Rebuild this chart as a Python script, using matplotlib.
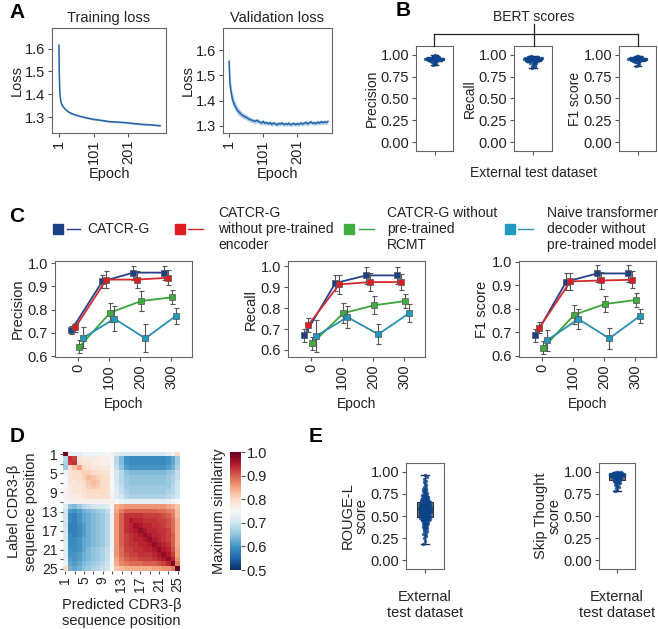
import numpy as np
import matplotlib
matplotlib.use('Agg')
import matplotlib.pyplot as plt
from matplotlib.lines import Line2D

plt.rcParams['font.family'] = ['Liberation Sans', 'DejaVu Sans']
plt.rcParams['font.size'] = 9.5
plt.rcParams['text.color'] = '#222222'
plt.rcParams['axes.labelcolor'] = '#222222'
plt.rcParams['xtick.color'] = '#555555'
plt.rcParams['ytick.color'] = '#555555'
plt.rcParams['xtick.labelcolor'] = '#222222'
plt.rcParams['ytick.labelcolor'] = '#222222'

# ---------------- data ----------------
# A: loss curves
train_epochs = [1, 2, 3, 4, 5, 7, 10, 13, 17, 22, 30, 41, 55, 70, 85, 101, 125, 146, 170, 198, 220, 241, 265, 293]
train_loss = [1.615, 1.50, 1.43, 1.40, 1.385, 1.365, 1.352, 1.346, 1.338, 1.330, 1.321, 1.313, 1.306, 1.300,
              1.295, 1.290, 1.285, 1.280, 1.278, 1.275, 1.271, 1.268, 1.266, 1.262]
train_sd = [0.055, 0.02, 0.012, 0.008, 0.007, 0.006, 0.005, 0.005, 0.004, 0.004, 0.004, 0.004, 0.004, 0.004,
            0.004, 0.004, 0.004, 0.004, 0.004, 0.004, 0.004, 0.004, 0.004, 0.004]

val_epochs = [1, 2, 3, 4, 6, 8, 10, 12, 15, 18, 22, 26, 30, 35, 40, 45, 50, 56, 62, 69, 76, 83, 90, 97,
              101, 106, 111, 116, 121, 126, 131, 136, 141, 146, 151, 156, 161, 166, 171, 176, 181, 186,
              191, 196, 201, 206, 211, 216, 221, 226, 231, 236, 241, 246, 251, 256, 261, 266, 271, 276,
              281, 286, 291]
val_loss = [1.555, 1.51, 1.48, 1.46, 1.44, 1.425, 1.41, 1.40, 1.39, 1.38, 1.37, 1.36, 1.355, 1.348, 1.342,
            1.338, 1.335, 1.33, 1.325, 1.322, 1.318, 1.322, 1.315, 1.312, 1.318, 1.310, 1.314, 1.308, 1.313,
            1.306, 1.311, 1.309, 1.304, 1.310, 1.307, 1.312, 1.305, 1.309, 1.306, 1.311, 1.304, 1.308, 1.310,
            1.305, 1.309, 1.306, 1.312, 1.307, 1.310, 1.314, 1.308, 1.312, 1.316, 1.310, 1.313, 1.309, 1.315,
            1.311, 1.317, 1.312, 1.316, 1.313, 1.318]
val_sd = [0.11, 0.06, 0.04, 0.035, 0.03, 0.028, 0.025, 0.022, 0.02, 0.018, 0.016, 0.015, 0.014, 0.012,
          0.012, 0.011, 0.010, 0.010, 0.010, 0.009, 0.009, 0.009, 0.009, 0.009, 0.009, 0.008, 0.008, 0.008,
          0.008, 0.008, 0.008, 0.008, 0.008, 0.008, 0.008, 0.008, 0.008, 0.008, 0.008, 0.008, 0.008, 0.008,
          0.008, 0.008, 0.008, 0.008, 0.008, 0.008, 0.008, 0.008, 0.008, 0.008, 0.008, 0.008, 0.008, 0.008,
          0.008, 0.008, 0.008, 0.008, 0.008, 0.008, 0.008]

# B: BERT scores on external test set
bert_precision = [0.95, 0.96, 0.94, 0.97, 0.95, 0.96, 0.93, 0.98, 0.95, 0.94, 0.96, 0.97, 0.95, 0.92, 0.96,
                  0.99, 0.95, 0.94, 0.96, 0.93, 0.97, 0.95, 0.91, 0.96, 0.94, 0.98, 0.95, 0.90, 0.96, 0.94,
                  0.97, 0.95, 0.89, 0.96, 0.93, 1.00, 0.95, 0.94, 0.96, 0.88, 0.97, 0.95, 0.94, 0.96, 0.92,
                  0.95, 0.97, 0.94, 0.96, 0.95, 0.95, 0.96, 0.94, 0.95, 0.96]
bert_recall = [0.95, 0.96, 0.93, 0.97, 0.94, 0.98, 0.92, 0.95, 0.96, 0.91, 0.97, 0.94, 0.95, 0.90, 0.96,
               0.98, 0.93, 0.95, 0.97, 0.89, 0.94, 0.96, 0.92, 0.95, 0.88, 0.97, 0.93, 0.96, 0.87, 0.95,
               0.94, 0.99, 0.86, 0.96, 0.93, 0.95, 0.85, 0.97, 0.94, 0.96, 0.92, 0.95, 0.91, 0.96, 0.94,
               0.95, 0.97, 0.93, 0.96, 0.94, 0.95, 0.96, 0.93, 0.97, 0.95]
bert_f1 = [0.95, 0.96, 0.94, 0.97, 0.95, 0.96, 0.93, 0.98, 0.95, 0.94, 0.96, 0.97, 0.95, 0.92, 0.96,
           0.98, 0.95, 0.94, 0.96, 0.93, 0.97, 0.95, 0.91, 0.96, 0.94, 0.99, 0.95, 0.90, 0.96, 0.94,
           0.97, 0.95, 0.89, 0.96, 0.93, 0.99, 0.95, 0.94, 0.96, 0.87, 0.97, 0.95, 0.94, 0.96, 0.92,
           0.95, 0.97, 0.94, 0.96, 0.95, 0.95, 0.96, 0.94, 0.95, 0.96]

# C: metrics vs epoch, four models
epochs_c = [0, 100, 200, 300]
model_names = ['CATCR-G', 'CATCR-G\nwithout pre-trained\nencoder', 'CATCR-G without\npre-trained\nRCMT',
               'Naive transformer\ndecoder without\npre-trained model']
prec_vals = [[0.711, 0.921, 0.959, 0.959], [0.724, 0.929, 0.929, 0.937],
             [0.640, 0.787, 0.837, 0.853], [0.679, 0.761, 0.676, 0.774]]
prec_errs = [[0.018, 0.028, 0.030, 0.030], [0.020, 0.038, 0.036, 0.033],
             [0.027, 0.040, 0.045, 0.030], [0.045, 0.055, 0.060, 0.034]]
rec_vals = [[0.670, 0.920, 0.957, 0.957], [0.720, 0.914, 0.925, 0.925],
            [0.632, 0.776, 0.814, 0.834], [0.667, 0.757, 0.675, 0.776]]
rec_errs = [[0.030, 0.038, 0.042, 0.040], [0.033, 0.047, 0.044, 0.040],
            [0.032, 0.048, 0.042, 0.032], [0.075, 0.052, 0.048, 0.043]]
f1_vals = [[0.686, 0.915, 0.950, 0.950], [0.719, 0.916, 0.920, 0.923],
           [0.634, 0.774, 0.820, 0.837], [0.666, 0.756, 0.673, 0.770]]
f1_errs = [[0.026, 0.037, 0.036, 0.036], [0.023, 0.038, 0.036, 0.036],
           [0.027, 0.040, 0.036, 0.029], [0.045, 0.041, 0.044, 0.030]]

# D: maximum similarity, label (rows) x predicted (cols) positions 1..25, in percent
heat_rows = [
    "100 73 73 73 74 74 74 74 74 75 76 72 71 71 71 71 71 71 71 71 71 71 72 74 80",
    "68 93 92 78 77 77 77 77 76 76 75 68 64 60 59 59 59 59 59 59 59 59 60 62 66",
    "67 92 93 79 78 78 77 77 76 76 75 68 64 60 59 59 59 59 59 59 59 59 60 62 66",
    "66 80 82 85 80 79 78 78 77 77 75 69 65 61 60 60 60 60 60 60 60 60 61 63 67",
    "74 78 79 80 81 81 80 79 79 78 75 71 68 65 64 64 64 64 64 64 64 64 65 66 69",
    "75 78 79 79 81 83 82 81 80 79 75 71 68 66 65 65 65 65 65 65 65 65 66 67 69",
    "75 78 78 79 80 82 83 82 80 79 75 71 68 66 65 65 65 65 65 65 65 65 66 67 70",
    "75 77 78 78 79 81 82 81 80 79 75 72 69 66 66 66 66 66 66 66 66 66 66 68 70",
    "76 77 78 78 79 80 80 80 80 79 75 72 69 67 66 66 66 66 66 66 66 66 67 68 70",
    "76 77 77 77 78 79 79 79 79 79 76 72 70 68 67 67 67 67 67 67 67 67 68 69 71",
    "75 76 76 76 76 76 76 76 76 76 76 75 74 73 73 73 73 73 73 73 73 73 73 74 75",
    "72 65 64 66 68 69 70 71 71 72 75 84 85 86 86 86 86 86 86 86 86 86 85 84 82",
    "70 61 60 61 63 64 65 66 67 69 74 85 88 90 90 90 90 90 90 90 89 89 88 87 83",
    "70 59 58 60 62 63 64 65 66 68 74 86 90 93 93 93 93 92 92 92 92 91 90 88 83",
    "70 59 58 60 62 63 64 65 66 68 74 86 90 93 95 94 94 93 93 93 92 92 91 89 84",
    "70 58 58 59 61 63 64 65 66 68 74 86 90 93 94 96 95 94 94 93 93 92 91 89 84",
    "71 58 58 59 61 63 64 65 66 68 74 86 90 93 94 95 97 95 94 94 93 93 92 89 84",
    "71 59 58 59 61 63 64 65 66 68 74 86 90 92 93 94 95 97 95 94 94 93 92 90 84",
    "71 59 59 60 62 63 64 65 66 68 74 86 90 92 93 94 94 95 97 95 94 93 92 90 84",
    "72 59 59 60 62 63 64 65 66 68 74 86 90 92 93 93 94 94 95 97 95 94 93 90 84",
    "72 60 59 60 62 64 65 66 67 69 74 86 89 92 92 93 93 94 94 95 97 95 94 91 85",
    "72 60 60 61 63 64 65 66 67 69 75 86 89 91 92 92 93 93 93 94 95 97 95 92 85",
    "73 61 60 61 63 64 65 66 67 69 75 85 88 90 91 91 92 92 92 93 94 95 97 94 86",
    "74 62 61 62 64 65 66 67 68 70 75 84 87 88 89 89 89 90 90 90 91 92 94 98 88",
    "80 63 62 63 65 66 67 68 69 70 75 82 83 84 84 84 84 84 84 85 85 86 86 88 100",
]
seq_positions = list(range(1, 26))

# E: ROUGE-L and Skip Thought scores
rouge_scores = [
    0.18, 0.22, 0.25, 0.27, 0.29, 0.30, 0.31, 0.33, 0.33, 0.35,
    0.35, 0.36, 0.37, 0.38, 0.38, 0.39, 0.40, 0.40, 0.41, 0.41,
    0.42, 0.42, 0.43, 0.43, 0.44, 0.44, 0.45, 0.45, 0.45, 0.46,
    0.46, 0.47, 0.47, 0.47, 0.48, 0.48, 0.48, 0.49, 0.49, 0.50,
    0.50, 0.50, 0.50, 0.51, 0.51, 0.51, 0.52, 0.52, 0.52, 0.53,
    0.53, 0.53, 0.53, 0.54, 0.54, 0.54, 0.55, 0.55, 0.55, 0.55,
    0.56, 0.56, 0.56, 0.57, 0.57, 0.57, 0.57, 0.58, 0.58, 0.58,
    0.58, 0.58, 0.59, 0.59, 0.59, 0.60, 0.60, 0.60, 0.60, 0.61,
    0.61, 0.61, 0.62, 0.62, 0.62, 0.62, 0.63, 0.63, 0.63, 0.64,
    0.64, 0.64, 0.65, 0.65, 0.65, 0.66, 0.66, 0.66, 0.67, 0.67,
    0.67, 0.68, 0.68, 0.69, 0.69, 0.69, 0.70, 0.70, 0.71, 0.71,
    0.72, 0.72, 0.73, 0.73, 0.74, 0.74, 0.75, 0.76, 0.76, 0.77,
    0.78, 0.79, 0.80, 0.81, 0.82, 0.83, 0.85, 0.86, 0.88, 0.90,
    0.92, 0.94, 0.96, 0.46, 0.49, 0.52, 0.55, 0.57, 0.59, 0.61,
    0.63, 0.66, 0.68, 0.70, 0.47, 0.50, 0.53, 0.56, 0.58, 0.60,
    0.62, 0.64, 0.67, 0.54, 0.57, 0.59, 0.61, 0.51, 0.49, 0.65,
]
skip_scores = [
    0.78, 0.80, 0.82, 0.83, 0.84, 0.85, 0.86, 0.87, 0.87, 0.88,
    0.88, 0.89, 0.89, 0.90, 0.90, 0.90, 0.91, 0.91, 0.91, 0.92,
    0.92, 0.92, 0.93, 0.93, 0.93, 0.93, 0.94, 0.94, 0.94, 0.94,
    0.95, 0.95, 0.95, 0.95, 0.95, 0.96, 0.96, 0.96, 0.96, 0.96,
    0.97, 0.97, 0.97, 0.97, 0.97, 0.98, 0.98, 0.98, 0.98, 0.98,
    0.99, 0.99, 0.99, 0.99, 1.00, 1.00, 1.00, 0.97, 0.96, 0.98,
    0.97, 0.98, 0.99, 0.96, 0.95, 0.97, 0.98, 0.99, 0.96, 0.97,
]

# ---------------- layout helpers ----------------
W, H = 658, 629
fig = plt.figure(figsize=(W / 100, H / 100), dpi=100)

model_colors = ['#1c3f86', '#e01b22', '#3fae3f', '#1f9bbd']
line_colors = ['#24408a', '#d42a2f', '#3aa63a', '#2a8fb3']
dodge = [-22, -9, 4, 17]
point_blue = '#0d4489'


def add_ax(l, t, r, b):
    return fig.add_axes([l / W, 1 - b / H, (r - l) / W, (b - t) / H])


def ftext(x, y, s, **kw):
    fig.text(x / W, 1 - y / H, s, **kw)


def fline(xs, ys, **kw):
    fig.add_artist(Line2D([x / W for x in xs], [1 - y / H for y in ys], **kw))


def style(ax, size=9.5):
    for sp in ax.spines.values():
        sp.set_color('#666666')
        sp.set_linewidth(0.8)
    ax.tick_params(length=3, width=0.8, labelsize=size, pad=2)


def swarm(ax, data, width, box_w=0.42):
    # box plus density-spread points
    ax.boxplot([data], positions=[0], widths=box_w, whis=(0, 100), showfliers=False, patch_artist=True,
               boxprops=dict(facecolor='#7a7a7a', edgecolor='#333333', linewidth=0.8),
               medianprops=dict(color='#333333', linewidth=1.0),
               whiskerprops=dict(color='#2a2f55', linewidth=1.0),
               capprops=dict(color='#2a2f55', linewidth=1.0))
    d = np.array(data)
    dens = np.array([np.sum(np.abs(d - v) <= 0.015) for v in d], dtype=float)
    dens = dens / dens.max()
    xs = [((i * 0.6180339) % 1 - 0.5) * width * (0.2 + 0.8 * dens[i]) for i in range(len(d))]
    ax.scatter(xs, d, s=6, color=point_blue, alpha=0.8, linewidths=0, zorder=5)
    ax.set_xlim(-0.5, 0.5)
    ax.set_ylim(-0.1, 1.1)
    ax.set_xticks([0])
    ax.set_xticklabels([''])
    ax.set_yticks([0, 0.25, 0.5, 0.75, 1.0])
    ax.set_yticklabels(['0.00', '0.25', '0.50', '0.75', '1.00'])


# ---------------- A ----------------
axA1 = add_ax(52, 28, 166, 133)
axA2 = add_ax(223, 28, 332, 133)
for ax, ep, lo, sd, title, xl, yl in [
        (axA1, train_epochs, train_loss, train_sd, 'Training loss', (-19, 310), (1.23, 1.69)),
        (axA2, val_epochs, val_loss, val_sd, 'Validation loss', (-17, 303), (1.272, 1.687))]:
    lo = np.array(lo)
    sd = np.array(sd)
    ax.fill_between(ep, lo - sd, lo + sd, color='#9cc3e4', alpha=0.8, linewidth=0)
    ax.plot(ep, lo, color='#2563a6', lw=1.1)
    ax.set_xlim(*xl)
    ax.set_ylim(*yl)
    ax.set_xticks([1, 101, 201])
    ax.set_xticklabels(['1', '101', '201'], rotation=90)
    ax.set_yticks([1.3, 1.4, 1.5, 1.6])
    ax.set_title(title, fontsize=10.5, pad=4)
    ax.set_xlabel('Epoch', fontsize=10.5, labelpad=2)
    ax.set_ylabel('Loss', fontsize=10.5, labelpad=1)
    style(ax, 10.5)

# ---------------- B ----------------
b_axes = [(416, 453, bert_precision, 'Precision'), (514, 552, bert_recall, 'Recall'),
          (619, 656, bert_f1, 'F1 score')]
for l, r, data, lab in b_axes:
    ax = add_ax(l, 46, r, 151)
    swarm(ax, data, 0.5, box_w=0.42)
    ax.set_ylabel(lab, fontsize=10, labelpad=1)
    style(ax, 10.5)
fline([434, 638], [34, 34], color='#222222', lw=0.9)
for x in [434, 534, 638]:
    fline([x, x], [34, 46], color='#222222', lw=0.9)
fline([534, 534], [24, 34], color='#222222', lw=0.9)
ftext(534, 17, 'BERT scores', ha='center', va='center', fontsize=10)
ftext(534, 173, 'External test dataset', ha='center', va='center', fontsize=10)

# ---------------- C ----------------
c_axes = [(55, 192, prec_vals, prec_errs, 'Precision', (0.596, 1.009)),
          (288, 425, rec_vals, rec_errs, 'Recall', (0.566, 1.026)),
          (519, 656, f1_vals, f1_errs, 'F1 score', (0.594, 1.003))]
for l, r, vals, errs, lab, yl in c_axes:
    ax = add_ax(l, 261, r, 357)
    for k in range(4):
        xs = [e + dodge[k] for e in epochs_c]
        ax.errorbar(xs, vals[k], yerr=errs[k], fmt='none', ecolor='#555555', elinewidth=0.8,
                    capsize=1.8, capthick=0.8, zorder=2 + k)
        ax.plot(xs, vals[k], color=line_colors[k], lw=1.3, zorder=2 + k)
        ax.plot(xs, vals[k], 's', ms=5, mfc=model_colors[k], mec='#555555', mew=0.5, zorder=2 + k)
    ax.set_xlim(-75, 368)
    ax.set_ylim(*yl)
    ax.set_xticks(epochs_c)
    ax.set_xticklabels([str(e) for e in epochs_c], rotation=90)
    ax.set_yticks([0.6, 0.7, 0.8, 0.9, 1.0])
    ax.set_ylabel(lab, fontsize=10.5, labelpad=2)
    style(ax, 10.5)
    ftext((l + r) / 2, 404, 'Epoch', ha='center', va='center', fontsize=10)

# legend row for C
leg_sq = [58, 180, 349, 510]
leg_ln = [(67, 80), (188, 203), (359, 374), (518, 533)]
leg_tx = [87, 218, 387, 547]
for k in range(4):
    fig.add_artist(Line2D([leg_sq[k] / W], [1 - 229 / H], marker='s', ms=6.5, color=model_colors[k], lw=0))
    fline(list(leg_ln[k]), [229, 229], color=line_colors[k], lw=1.0)
    ftext(leg_tx[k], 229, model_names[k], ha='left', va='center', fontsize=10, linespacing=1.15)

# ---------------- D ----------------
heat = np.array([[int(v) / 100 for v in row.split()] for row in heat_rows])
axD = add_ax(63, 452, 180, 571)
im = axD.imshow(heat, cmap='RdBu_r', vmin=0.5, vmax=1.0, aspect='auto', interpolation='nearest',
                extent=(0.5, 25.5, 25.5, 0.5))
tick_pos = seq_positions[::2]
tick_lab = [str(p) if (p - 1) % 4 == 0 else '' for p in tick_pos]
axD.set_xticks(tick_pos)
axD.set_xticklabels(tick_lab, rotation=90)
axD.set_yticks(tick_pos)
axD.set_yticklabels(tick_lab)
for sp in axD.spines.values():
    sp.set_visible(False)
axD.tick_params(length=2.5, width=0.8, labelsize=10, pad=1.5)
axD.set_ylabel('Label CDR3-β\nsequence position', fontsize=10.5, labelpad=3)
axD.set_xlabel('Predicted CDR3-β\nsequence position', fontsize=10.5, labelpad=4)

cax = add_ax(230, 452, 241, 570)
cb = fig.colorbar(im, cax=cax, ticks=[0.5, 0.6, 0.7, 0.8, 0.9, 1.0])
cb.outline.set_visible(False)
cax.tick_params(length=3, width=0.8, labelsize=10.5, pad=1)
cax.set_yticklabels(['0.5', '0.6', '0.7', '0.8', '0.9', '1.0'])
cax.yaxis.set_label_position('left')
cax.set_ylabel('Maximum similarity', fontsize=10.5, labelpad=3)

# ---------------- E ----------------
axE1 = add_ax(406, 463, 444, 569)
swarm(axE1, rouge_scores, 0.36)
axE1.set_ylabel('ROUGE-L\nscore', fontsize=10.5, labelpad=1, linespacing=1.0)
axE1.set_xlabel('External\ntest dataset', fontsize=10.5, labelpad=10)
style(axE1, 10.5)

axE2 = add_ax(599, 463, 635, 569)
swarm(axE2, skip_scores, 0.45)
axE2.set_ylabel('Skip Thought\nscore', fontsize=10.5, labelpad=1, linespacing=1.0)
axE2.set_xlabel('External\ntest dataset', fontsize=10.5, labelpad=10)
style(axE2, 10.5)

# panel letters
for x, y, s in [(17, 13, 'A'), (403, 11, 'B'), (17, 217, 'C'), (17, 437, 'D'), (316, 437, 'E')]:
    ftext(x, y, s, ha='center', va='center', fontsize=15, fontweight='bold', color='#000000')

fig.savefig('out.png', dpi=100)
